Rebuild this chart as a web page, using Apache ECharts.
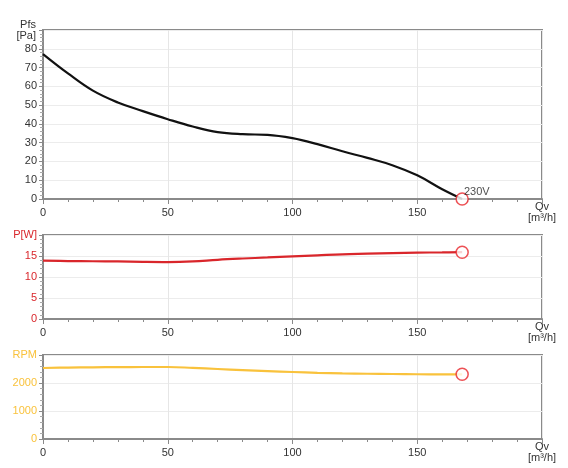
<!DOCTYPE html>
<html>
<head>
<meta charset="utf-8">
<script src="https://cdn.jsdelivr.net/npm/echarts@6/dist/echarts.min.js"></script>
<style>
  html, body { margin: 0; padding: 0; background: #fff; }
  #chart { width: 568px; height: 468px; }
</style>
</head>
<body>
<div id="chart"></div>
<script>
// airflow Qv [m3/h]
var qv = [0, 10, 20, 30, 40, 50, 60, 70, 80, 90, 100, 110, 120, 130, 140, 150, 160, 168];
// static pressure Pfs [Pa]
var pfs = [77.2, 66.9, 57.7, 51.4, 46.8, 42.5, 38.6, 35.6, 34.5, 34.2, 32.4, 29.2, 25.4, 21.9, 18.0, 12.6, 5.2, 0];
// power P [W]
var power = [13.9, 13.8, 13.75, 13.7, 13.6, 13.55, 13.7, 14.1, 14.4, 14.65, 14.9, 15.15, 15.4, 15.55, 15.7, 15.8, 15.85, 15.9];
// speed RPM
var rpm = [2536, 2550, 2560, 2568, 2571, 2571, 2540, 2500, 2460, 2425, 2393, 2365, 2345, 2330, 2321, 2312, 2310, 2310];
var voltageLabel = '230V';

var FONT = 'Liberation Sans, Arial, sans-serif';
var AXIS_GRAY = '#8a8a8a';
var RED = '#d9262b';
var YELLOW = '#f9c23c';

function pairs(ys) {
    return qv.map(function (x, i) { return [x, ys[i]]; });
}
function lastPoint(ys) {
    var n = qv.length - 1;
    return [[qv[n], ys[n]]];
}

function xAxisFor(idx) {
    return {
        type: 'value', gridIndex: idx, min: 0, max: 200, interval: 50,
        name: 'Qv\n[m³/h]', nameLocation: 'end', nameGap: 0,
        nameTextStyle: { align: 'center', verticalAlign: 'top', lineHeight: 11, fontSize: 11, color: '#333', fontFamily: FONT, padding: [2, 0, 0, 0] },
        axisLine: { lineStyle: { color: AXIS_GRAY, width: 2 } },
        axisTick: { length: 5, lineStyle: { color: AXIS_GRAY } },
        minorTick: { show: true, splitNumber: 5, length: 3, lineStyle: { color: AXIS_GRAY } },
        axisLabel: {
            fontSize: 11, color: '#333', fontFamily: FONT, margin: 8,
            formatter: function (v) { return v === 200 ? '' : v; }
        },
        splitLine: { show: true, lineStyle: { color: '#e6e6e6' } }
    };
}

function yAxisFor(idx, max, interval, color, topText) {
    return {
        type: 'value', gridIndex: idx, min: 0, max: max, interval: interval,
        axisLine: { show: true, lineStyle: { color: AXIS_GRAY, width: 2 } },
        axisTick: { show: true, length: 4, lineStyle: { color: AXIS_GRAY } },
        minorTick: { show: true, splitNumber: 5, length: 3, lineStyle: { color: '#aaa' } },
        axisLabel: {
            fontSize: 11, color: color, fontFamily: FONT, margin: 6,
            formatter: function (v) { return v === max ? topText : v; }
        },
        splitLine: { show: true, lineStyle: { color: '#ececec' } }
    };
}

function markerSeries(idx, ys, withLabel) {
    return {
        type: 'scatter', xAxisIndex: idx, yAxisIndex: idx,
        data: lastPoint(ys),
        symbol: 'circle', symbolSize: 12, z: 5,
        itemStyle: { color: '#fff', borderColor: '#e8262a', borderWidth: 1.5 },
        label: withLabel ? {
            show: true, formatter: voltageLabel, position: 'right', distance: 2,
            offset: [-7, -7], fontSize: 11, color: '#222', fontFamily: FONT
        } : { show: false },
        silent: true
    };
}

var chart = echarts.init(document.getElementById('chart'));
var yTop = yAxisFor(0, 90, 10, '#333', '');
yTop.name = 'Pfs\n[Pa]';
yTop.nameLocation = 'end';
yTop.nameGap = 0;
yTop.nameTextStyle = { align: 'right', verticalAlign: 'middle', lineHeight: 11, fontSize: 11, color: '#333', fontFamily: FONT, padding: [0, 7, 0, 0] };

chart.setOption({
    backgroundColor: '#fff',
    animation: false,
    grid: [
        { left: 43, top: 30, width: 499, height: 169, show: true, borderColor: AXIS_GRAY, borderWidth: 2 },
        { left: 43, top: 235, width: 499, height: 84, show: true, borderColor: AXIS_GRAY, borderWidth: 2 },
        { left: 43, top: 355, width: 499, height: 84, show: true, borderColor: AXIS_GRAY, borderWidth: 2 }
    ],
    xAxis: [xAxisFor(0), xAxisFor(1), xAxisFor(2)],
    yAxis: [
        yTop,
        yAxisFor(1, 20, 5, RED, 'P[W]'),
        yAxisFor(2, 3000, 1000, YELLOW, 'RPM')
    ],
    series: [
        { type: 'line', xAxisIndex: 0, yAxisIndex: 0, data: pairs(pfs), smooth: 0.4, symbol: 'none', lineStyle: { color: '#111', width: 2.2 } },
        { type: 'line', xAxisIndex: 1, yAxisIndex: 1, data: pairs(power), smooth: 0.4, symbol: 'none', lineStyle: { color: RED, width: 2.2 } },
        { type: 'line', xAxisIndex: 2, yAxisIndex: 2, data: pairs(rpm), smooth: 0.4, symbol: 'none', lineStyle: { color: YELLOW, width: 2.2 } },
        markerSeries(0, pfs, true),
        markerSeries(1, power, false),
        markerSeries(2, rpm, false)
    ]
});
</script>
</body>
</html>
